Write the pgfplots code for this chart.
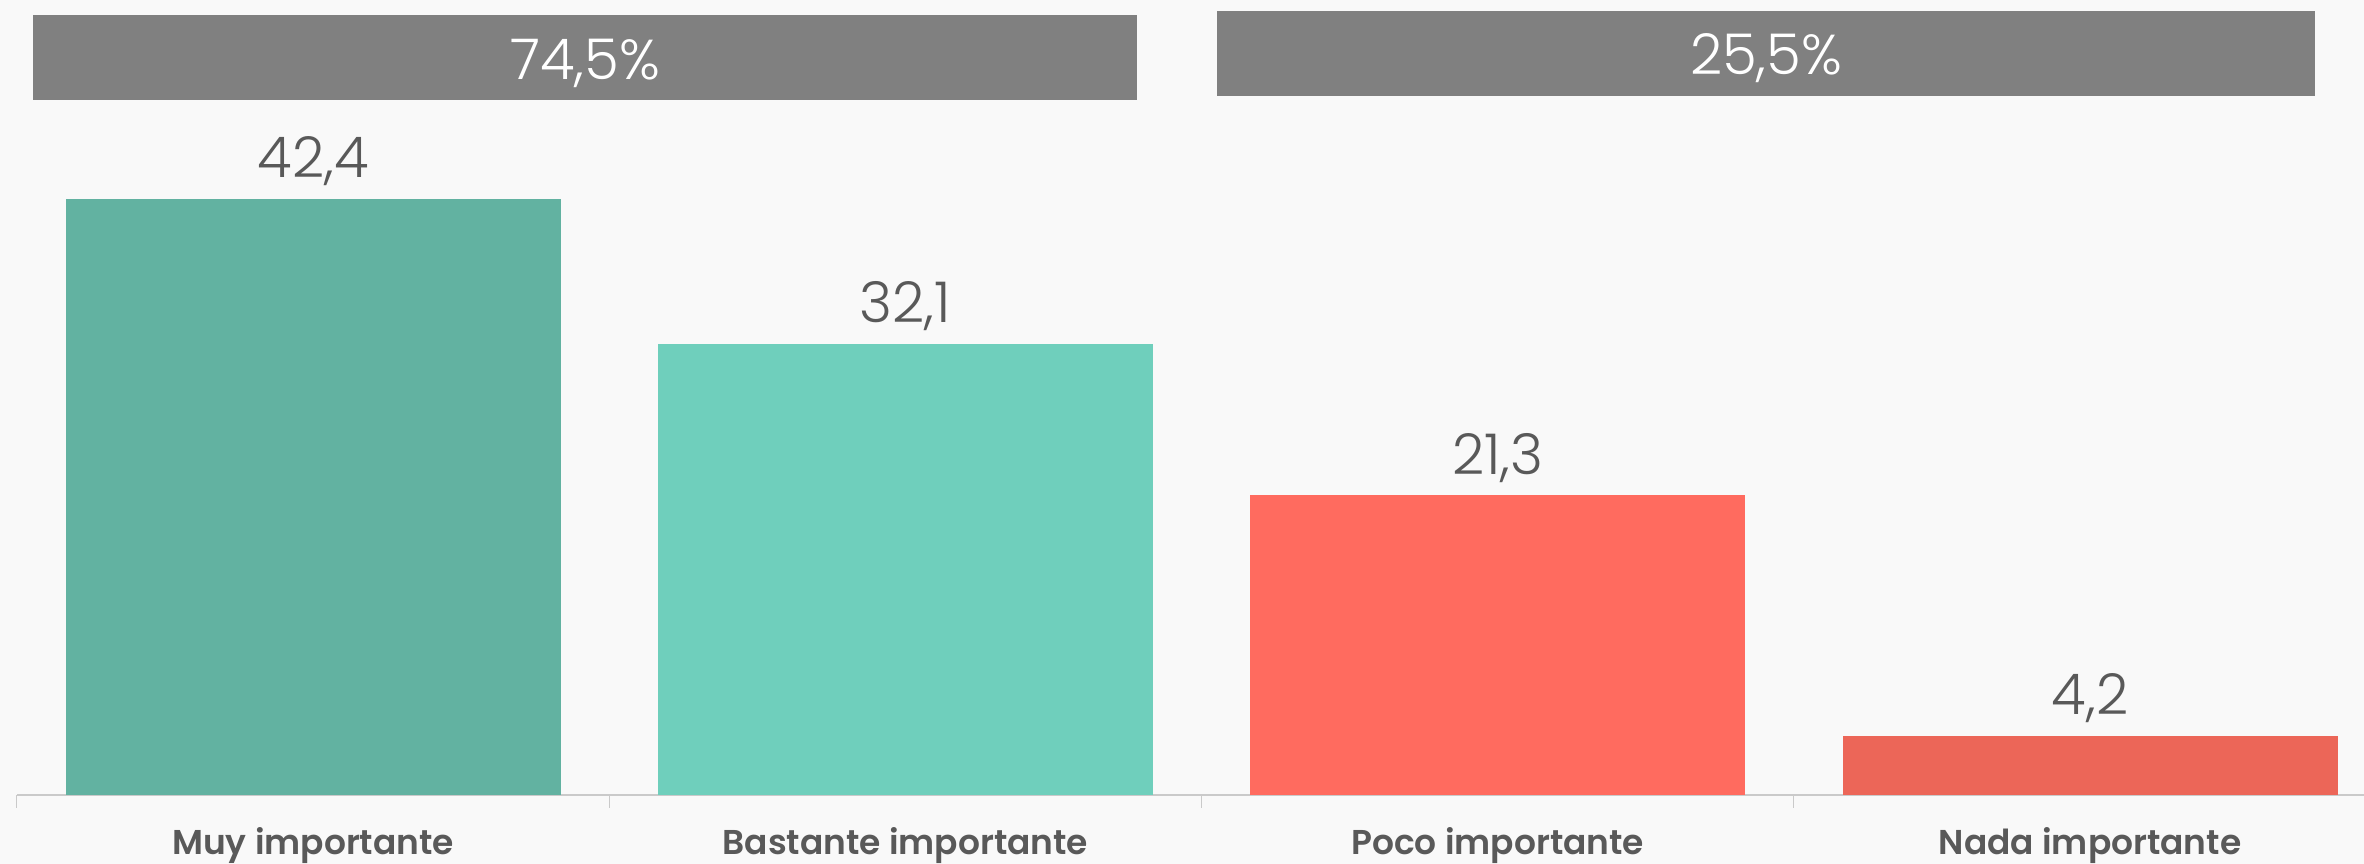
\documentclass[border=0pt]{standalone}
\usepackage{fontspec}
\setmainfont{Poppins}
\newfontfamily\numfont{Poppins Light}
\newfontfamily\labfont{Poppins SemiBold}
\usepackage{pgfplots}
\pgfplotsset{compat=1.18}
\usetikzlibrary{backgrounds}
\definecolor{bg}{HTML}{F9F9F9}
\definecolor{boxgray}{HTML}{808080}
\definecolor{txtgray}{HTML}{595959}
\definecolor{axisgray}{HTML}{CACACA}
\definecolor{muy}{HTML}{62B2A1}
\definecolor{bastante}{HTML}{6FCFBC}
\definecolor{poco}{HTML}{FF6B5F}
\definecolor{nada}{HTML}{EC6658}

\begin{document}
\begin{tikzpicture}
\begin{axis}[
    scale only axis,
    width=234.7mm, height=79.5mm,
    xmin=-0.5, xmax=3.4625,
    ymin=0, ymax=56.54,
    ybar, bar width=49.5mm, bar shift=0pt,
    clip=false,
    axis x line*=bottom,
    hide y axis,
    x axis line style={draw=axisgray, line width=0.15mm},
    xtick={0,1,2,3},
    xticklabels={Muy importante, Bastante importante, Poco importante, Nada importante},
    major tick length=0pt,
    tick align=outside,
    xticklabel style={font=\labfont\fontsize{9.8}{12}\selectfont, text=txtgray, anchor=base, yshift=-6.0mm},
    extra x ticks={-0.5,0.5,1.5,2.5},
    extra x tick labels={},
    extra x tick style={major tick length=1.3mm, major tick style={draw=axisgray, line width=0.1mm}},
    nodes near coords,
    nodes near coords style={font=\numfont\fontsize{16}{18}\selectfont, text=txtgray, anchor=base, yshift=2.1mm},
    /pgf/number format/.cd, use comma, fixed, fixed zerofill, precision=1, assume math mode=true,
]
\coordinate (bl) at (rel axis cs:0,0);
\addplot[fill=muy, draw=none] coordinates {(0,42.4)};
\addplot[fill=bastante, draw=none] coordinates {(1,32.1)};
\addplot[fill=poco, draw=none] coordinates {(2,21.3)};
\addplot[fill=nada, draw=none] coordinates {(3,4.2)};

\fill[boxgray] (axis cs:-0.473,49.43) rectangle (axis cs:1.391,55.48);
\fill[boxgray] (axis cs:1.526,49.72) rectangle (axis cs:3.380,55.76);
\node[text=white, anchor=base, font=\numfont\fontsize{16}{18}\selectfont] at (axis cs:0.459,50.92) {74,5\%};
\node[text=white, anchor=base, font=\numfont\fontsize{16}{18}\selectfont] at (axis cs:2.453,51.21) {25,5\%};
\end{axis}
\begin{scope}[on background layer]
\fill[bg] ([xshift=-1.7mm, yshift=-6.9mm]bl) rectangle ++(236.4mm,86.4mm);
\end{scope}
\pgfresetboundingbox
\path[use as bounding box] ([xshift=-1.7mm, yshift=-6.9mm]bl) rectangle ++(236.4mm,86.4mm);
\end{tikzpicture}
\end{document}
